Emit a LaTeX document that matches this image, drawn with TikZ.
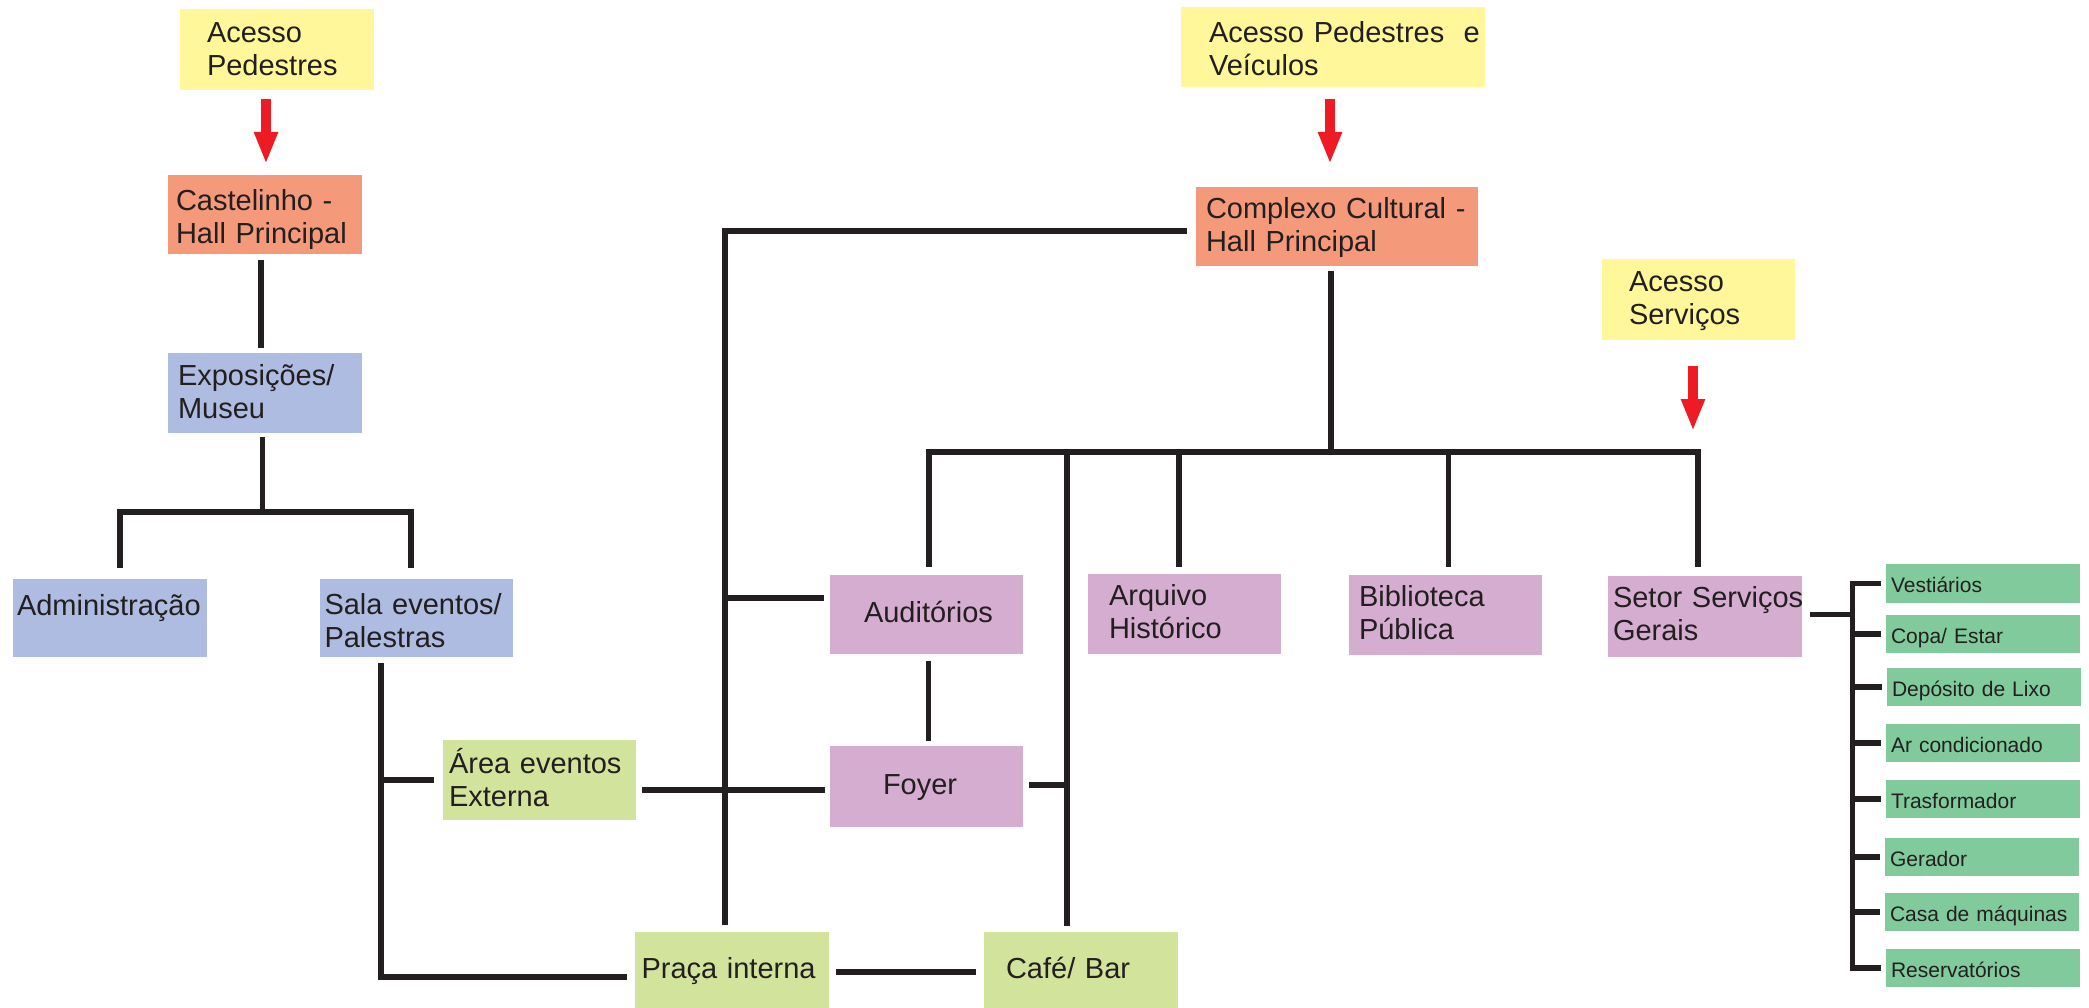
\documentclass[tikz,border=0pt]{standalone}
\usepackage{fontspec}
\setmainfont{Liberation Sans}
\usetikzlibrary{arrows.meta,calc}
\definecolor{cyel}{HTML}{FFF799}
\definecolor{csal}{HTML}{F5997B}
\definecolor{cblu}{HTML}{ADBCE0}
\definecolor{cpur}{HTML}{D5ADD0}
\definecolor{clgr}{HTML}{D2E39B}
\definecolor{cgrn}{HTML}{80CA9C}
\definecolor{cred}{HTML}{ED1C24}
\definecolor{cink}{HTML}{231F20}
\newcommand\bx[8]{%
 \pgfmathsetmacro\bxw{#4-#2}%
 \pgfmathsetmacro\bxh{#5-#3}%
 \pgfmathsetmacro\bxt{#4-#2-2*#6}%
 \node[#7,anchor=north west,minimum width=\bxw pt,minimum height=\bxh pt,text width=\bxt pt,inner xsep=#6pt] (#1) at (#2,#3) {#8};}
\begin{document}
\begin{tikzpicture}[x=1pt,y=-1pt,
 conn/.style={draw=cink,line width=5.2pt},
 bxs/.style={draw=none,inner ysep=0pt,outer sep=0pt,align=left,text=cink,font=\fontsize{29}{33}\selectfont},
 two/.style={bxs,text height=22pt,text depth=33pt},
 one/.style={bxs,text height=22pt,text depth=6pt},
 small/.style={draw=none,inner ysep=0pt,outer sep=0pt,align=left,text=cink,font=\fontsize{21}{24}\selectfont,text height=18pt,text depth=0pt,fill=cgrn},
 redarr/.style={draw=cred,line width=10pt,-{Triangle[width=22pt,length=32pt]}}]
\fill[white] (0,0) rectangle (2089,1008);
\useasboundingbox (0,0) rectangle (2089,1008);
% boxes
\bx{acc1}{180}{9}{374}{90}{27}{two,text depth=36pt,fill=cyel}{Acesso\\Pedestres}
\bx{cast}{168}{175}{362}{254}{8}{two,text depth=29pt,fill=csal}{Castelinho~-\\Hall~Principal}
\bx{expo}{168}{353}{362}{433}{10}{two,text depth=38pt,fill=cblu}{Exposições/\\Museu}
\bx{admin}{13}{579}{207}{657}{4}{two,text depth=28pt,fill=cblu}{Administração}
\bx{sala}{320}{579}{513}{657}{4.5}{two,text depth=30pt,fill=cblu}{Sala~eventos/\\Palestras}
\bx{area}{443}{740}{636}{820}{6}{two,text depth=36pt,fill=clgr}{Área~eventos\\Externa}
\bx{praca}{635}{932}{829}{1008}{6.5}{one,fill=clgr}{Praça~interna}
\bx{cafe}{984}{932}{1178}{1008}{22}{one,fill=clgr}{Café/~Bar}
\bx{acc2}{1181}{7}{1485}{87}{28}{two,text depth=30pt,fill=cyel}{Acesso~Pedestres~~e\\Veículos}
\bx{cc}{1196}{187}{1478}{266}{10}{two,text depth=37pt,fill=csal}{Complexo~Cultural~-\\Hall~Principal}
\bx{acc3}{1602}{259}{1795}{340}{27}{two,text depth=37pt,fill=cyel}{Acesso\\Serviços}
\bx{aud}{830}{575}{1023}{654}{34}{one,fill=cpur}{Auditórios}
\bx{arq}{1088}{574}{1281}{654}{21}{two,text depth=40pt,fill=cpur}{Arquivo\\Histórico}
\bx{bib}{1349}{575}{1542}{655}{10}{two,text depth=40pt,fill=cpur}{Biblioteca\\Pública}
\bx{setor}{1608}{576}{1802}{657}{5}{two,text depth=41pt,fill=cpur}{Setor~Serviços\\Gerais}
\bx{foyer}{830}{746}{1023}{827}{53}{one,fill=cpur}{Foyer}
\bx{g1}{1886}{564}{2080}{603}{5}{small}{Vestiários}
\bx{g2}{1886}{615}{2080}{653}{5}{small}{Copa/~Estar}
\bx{g3}{1887}{668}{2081}{706}{5}{small}{Depósito~de~Lixo}
\bx{g4}{1886}{724}{2080}{762}{5}{small}{Ar~condicionado}
\bx{g5}{1886}{780}{2080}{818}{5}{small}{Trasformador}
\bx{g6}{1885}{838}{2079}{876}{5}{small}{Gerador}
\bx{g7}{1885}{893}{2079}{931}{5}{small}{Casa~de~máquinas}
\bx{g8}{1886}{949}{2080}{987}{5}{small}{Reservatórios}
% junction coordinates
\coordinate (eB) at (262.5,512);
\coordinate (eL) at (120,512);
\coordinate (eR) at (411,512);
\coordinate (sB) at (381,977);
\coordinate (aT) at (381,780);
\coordinate (cL) at (725,231);
\coordinate (cA) at (725,598);
\coordinate (bC) at (1331,452);
\coordinate (bL) at (929,452);
\coordinate (b2) at (1067,452);
\coordinate (b3) at (1179,452);
\coordinate (b4) at (1448.5,452);
\coordinate (bR) at (1698,452);
\coordinate (bk) at (1852.5,614);
% red arrows
\draw[redarr] ($(cast.north |- acc1.south)+(1,9)$) -- ($(cast.north)+(1,-11)$);
\draw[redarr] ($(cc.north |- acc2.south)+(-7,12)$) -- ($(cc.north)+(-7,-23)$);
\draw[redarr] ($(bR |- acc3.south)+(-5,26)$) -- ($(bR)+(-5,-21)$);
% left tree
\draw[conn] ($(cast.south)+(-4,6)$) -- ($(expo.north)+(-4,-5)$);
\draw[conn] ($(expo.south -| eB)+(0,4)$) -- (eB);
\draw[conn] ($(admin.north -| eL)+(0,-11)$) -- (eL) -- (eR) -- ($(sala.north -| eR)+(0,-11)$);
\draw[conn] ($(sala.south -| sB)+(0,6)$) -- (sB) -- ($(sB -| praca.west)+(-8,0)$);
\draw[conn] (aT) -- ($(area.west |- aT)+(-9,0)$);
% complexo
\draw[conn] ($(cc.west |- cL)+(-9,0)$) -- (cL) -- ($(praca.north -| cL)+(0,-7)$);
\draw[conn] (cA) -- ($(aud.west |- cA)+(-6,0)$);
\draw[conn] ($(area.east)+(6,10)$) -- ($(foyer.west |- area.east)+(-5,10)$);
\draw[conn] ($(aud.south)+(2,7)$) -- ($(foyer.north)+(2,-5)$);
\draw[conn] ($(cc.south -| bC)+(0,5)$) -- (bC);
\draw[conn] ($(aud.north -| bL)+(0,-8)$) -- (bL) -- (bR) -- ($(setor.north -| bR)+(0,-9)$);
\draw[conn] (b2) -- ($(cafe.north -| b2)+(0,-6)$);
\draw[conn] (b3) -- ($(arq.north -| b3)+(0,-7)$);
\draw[conn] (b4) -- ($(bib.north -| b4)+(0,-8)$);
\draw[conn] ($(foyer.east)+(6,-1.5)$) -- ($(foyer.east -| b2)+(0,-1.5)$);
\draw[conn] ($(praca.east)+(7,2)$) -- ($(cafe.west)+(-8,2)$);
% services bracket
\draw[conn] ($(setor.east)+(8,-2)$) -- ($(setor.east -| bk)+(0,-2)$);
\draw[conn] ($(g1.west)+(-5,0)$) -- (g1.west -| bk) -- (g8.west -| bk) -- ($(g8.west)+(-5,0)$);
\foreach \g in {g2,g3,g4,g5,g6,g7}{\draw[conn] (\g.west -| bk) -- ($(\g.west)+(-5,0)$);}
\end{tikzpicture}
\end{document}
